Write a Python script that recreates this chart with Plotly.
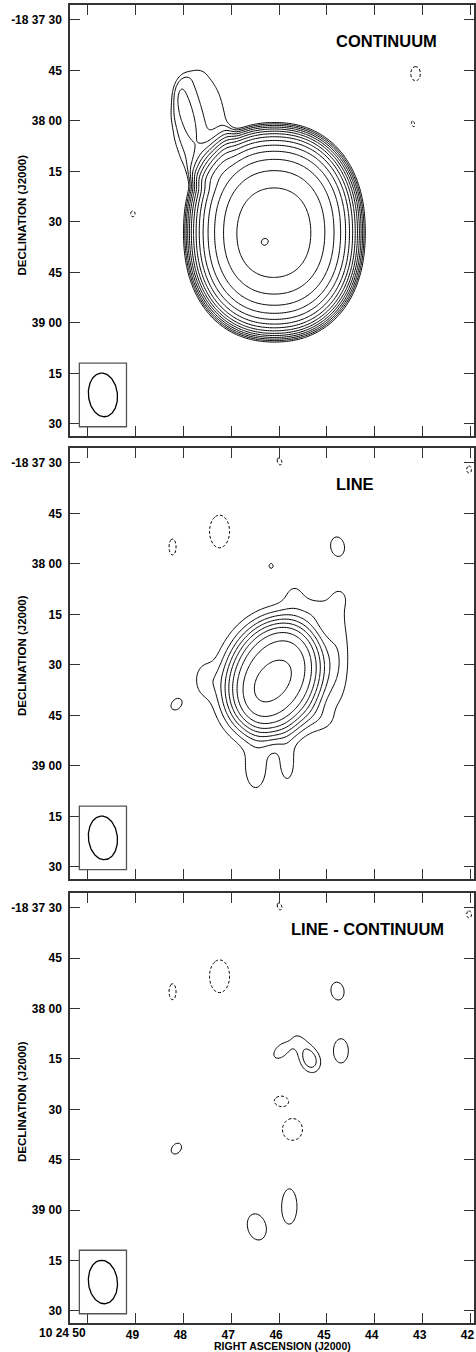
import numpy as np
import plotly.graph_objects as go

# ---------------- data ----------------
ra_ticks = [50, 49, 48, 47, 46, 45, 44, 43, 42]           # seconds of RA (10h24m xx s)
ra_labels = ["", "49", "48", "47", "46", "45", "44", "43", "42"]
ra_first_label = "10 24 50"
dec_ticks = [30, 45, 60, 75, 90, 105, 120, 135, 150]      # arcsec south of -18 37 00
dec_labels = ["-18 37 30", "45", "38 00", "15", "30", "45", "39 00", "15", "30"]
panel_titles = ["CONTINUUM", "LINE", "LINE - CONTINUUM"]

# restoring beam (FWHM arcsec, PA deg E of N) and its plotting position
beam_ra, beam_dec = 49.681, 141.4
beam_bmaj, beam_bmin, beam_bpa = 13.0, 8.6, 6.0

# CONTINUUM: extended source (filled ellipsoid), faint NE plateau, gaussian components (fraction of peak)
cont_disk = dict(ra=46.098, dec=93.1, a=33.0, b=27.0, pa=0.0, n=2.25, p=1.0, amp=1.0, smooth=2.3)
cont_plateau = dict(ra=47.66, dec=61.2, a=18.0, b=9.5, pa=5.0, n=2.0, p=0.0, amp=0.072, smooth=1.5)
cont_ra   = [46.30, 46.327, 47.95, 48.14, 47.51, 43.148, 43.20, 49.056]
cont_dec  = [95.5, 96.2, 57.3, 43.5, 43.0, 46.0, 60.9, 87.6]
cont_amp  = [0.03, 0.035, 0.03, 0.01, 0.01, -0.09, -0.075, -0.08]
cont_smaj = [7.0, 0.9, 11.0, 2.0, 2.0, 2.5, 1.6, 1.3]
cont_smin = [7.0, 0.9, 2.5, 2.0, 2.0, 1.7, 0.8, 1.0]
cont_pa   = [0, 0, 16, 0, 0, 0, 20, 0]
# contour levels, percent of peak (geometric steps)
cont_levels_pct = [98.5, 80.7, 66.2, 54.3, 44.5, 36.5, 29.9, 24.5, 20.1, 16.5, 13.5, 11.1, 9.1, 7.4, 6.1]
cont_neg_pct = [-6.1]

# LINE: core (smoothed flat ellipse) + gaussian components (units of lowest contour)
line_disk = dict(ra=46.094, dec=93.8, a=18.0, b=14.0, pa=-22.0, n=2.0, p=0.0, amp=7.3, smooth=3.4)
line_ra   = [46.094, 46.16, 44.744, 44.74, 45.16, 45.68, 46.49, 45.827, 47.556, 45.10, 46.167]
line_dec  = [93.8, 95.3, 86.0, 70.0, 73.7, 69.2, 121.1, 119.6, 94.4, 106.5, 60.6]
line_amp  = [1.1, 1.1, 1.2, 0.6, 1.0, 0.9, 1.4, 1.3, 1.3, 0.8, 1.25]
line_smaj = [14.0, 8.0, 12.5, 2.2, 4.0, 4.0, 6.0, 5.0, 4.0, 3.0, 1.0]
line_smin = [11.0, 5.0, 2.5, 2.2, 3.0, 3.0, 3.0, 2.0, 2.5, 3.0, 0.8]
line_pa   = [-25, -41, 0, 0, 90, 0, 0, 0, 0, 0, 0]
line_levels = [1, 2, 3, 4, 5, 6, 7, 8, 9]
line_neg = [-1]

# noise features common to LINE and LINE - CONTINUUM
noise_ra   = [45.99, 42.03, 47.244, 48.226, 44.779, 48.146]
noise_dec  = [29.6, 32.0, 50.4, 55.0, 54.8, 101.7]
noise_amp  = [-1.3, -1.3, -1.5, -1.3, 1.5, 1.4]
noise_smaj = [1.5, 1.5, 5.4, 3.3, 2.97, 2.2]
noise_smin = [0.9, 1.0, 3.3, 1.45, 2.14, 1.6]
noise_pa   = [20, 0, 0, 0, 10, -40]

# LINE - CONTINUUM residual features
diff_ra   = [45.952, 45.348, 45.51, 44.708, 45.958, 45.72, 45.785, 46.467]
diff_dec  = [72.6, 75.5, 71.1, 72.6, 87.5, 96.0, 118.9, 125.0]
diff_amp  = [1.5, 2.4, 1.2, 1.5, -1.4, -1.5, 1.5, 1.5]
diff_smaj = [3.0, 2.6, 4.0, 4.0, 2.4, 3.6, 5.8, 4.4]
diff_smin = [1.8, 2.0, 2.0, 2.45, 1.7, 3.3, 2.5, 3.0]
diff_pa   = [-46, 20, 30, 0, 90, 0, 0, 15]
diff_levels = [1, 2]
diff_neg = [-1]

# ---------------- model images ----------------
COSD = np.cos(np.deg2rad(18.62))
C = 15.0 * COSD          # arcsec per second of RA
ra_grid = np.linspace(50.45, 41.85, 240)
dec_grid = np.linspace(24.5, 155.0, 262)
RA, DEC = np.meshgrid(ra_grid, dec_grid)


def rotated(ra0, dec0, pa):
    xe = (RA - ra0) * C
    yn = -(DEC - dec0)
    t = np.deg2rad(pa)
    u = xe * np.sin(t) + yn * np.cos(t)
    v = xe * np.cos(t) - yn * np.sin(t)
    return u, v


def gauss_sum(ras, decs, amps, smaj, smin, pas):
    img = np.zeros_like(RA)
    for r0, d0, a0, s1, s2, p0 in zip(ras, decs, amps, smaj, smin, pas):
        u, v = rotated(r0, d0, p0)
        img += a0 * np.exp(-0.5 * ((u / s1) ** 2 + (v / s2) ** 2))
    return img


def kernel(coord_arcsec, sig):
    k = np.exp(-0.5 * ((coord_arcsec[:, None] - coord_arcsec[None, :]) / sig) ** 2)
    return k / k.sum(axis=1, keepdims=True)


def disk_img(d):
    u, v = rotated(d["ra"], d["dec"], d["pa"])
    rho = (np.abs(u / d["a"]) ** d["n"] + np.abs(v / d["b"]) ** d["n"]) ** (1.0 / d["n"])
    inside = rho < 1
    val = np.where(inside, np.clip(1 - rho ** 2, 1e-9, None) ** d["p"], 0.0)
    kx = kernel(ra_grid * C, d["smooth"])
    ky = kernel(dec_grid, d["smooth"])
    return d["amp"] * (ky @ val @ kx.T)


img_cont = (disk_img(cont_disk) + disk_img(cont_plateau)
            + gauss_sum(cont_ra, cont_dec, cont_amp, cont_smaj, cont_smin, cont_pa))
img_line = (disk_img(line_disk) + gauss_sum(line_ra, line_dec, line_amp, line_smaj, line_smin, line_pa)
            + gauss_sum(noise_ra, noise_dec, noise_amp, noise_smaj, noise_smin, noise_pa))
img_diff = (gauss_sum(diff_ra, diff_dec, diff_amp, diff_smaj, diff_smin, diff_pa)
            + gauss_sum(noise_ra, noise_dec, noise_amp, noise_smaj, noise_smin, noise_pa))

# ---------------- figure ----------------
fig = go.Figure()
AX = ["", "2", "3"]
DASH = "3px,2px"


def contour_trace(z, start, end, size, k, dash="solid"):
    return go.Contour(
        x=ra_grid, y=dec_grid, z=np.round(z, 4), xaxis="x" + AX[k], yaxis="y" + AX[k],
        contours=dict(coloring="none", start=start, end=end, size=size),
        line=dict(color="black", width=1, dash=dash, smoothing=1.0),
        showscale=False, hoverinfo="skip")


# continuum: geometric levels -> contour the log of the image
peak = img_cont.max()
logpos = np.log10(np.clip(img_cont / peak * 100.0, 1e-3, None))
logneg = np.log10(np.clip(-img_cont / peak * 100.0, 1e-3, None))
lv = np.log10(cont_levels_pct)
fig.add_trace(contour_trace(logpos, lv.min(), lv.max(), (lv.max() - lv.min()) / (len(lv) - 1), 0))
for p in cont_neg_pct:
    lnv = np.log10(-p)
    fig.add_trace(contour_trace(logneg, lnv, lnv, 1.0, 0, DASH))

# line and line - continuum: linear levels
for img, levels, negs, k in [(img_line, line_levels, line_neg, 1), (img_diff, diff_levels, diff_neg, 2)]:
    step = levels[1] - levels[0]
    fig.add_trace(contour_trace(img, levels[0], levels[-1], step, k))
    for n in negs:
        fig.add_trace(contour_trace(img, n, n, 1.0, k, DASH))

# beam ellipse and box in every panel
t = np.linspace(0, 2 * np.pi, 120)
bu = beam_bmaj / 2 * np.cos(t)
bv = beam_bmin / 2 * np.sin(t)
th = np.deg2rad(beam_bpa)
b_xe = bu * np.sin(th) + bv * np.cos(th)
b_yn = bu * np.cos(th) - bv * np.sin(th)
b_ra = beam_ra + b_xe / C
b_dec = beam_dec - b_yn
box_hw, box_hh = 7.0, 9.45   # arcsec half-sizes of the beam box
shapes = []
for k in range(3):
    fig.add_trace(go.Scatter(x=b_ra, y=b_dec, mode="lines", xaxis="x" + AX[k], yaxis="y" + AX[k],
                             line=dict(color="black", width=1.3), hoverinfo="skip", showlegend=False))
    shapes.append(dict(type="rect", xref="x" + AX[k], yref="y" + AX[k],
                       x0=beam_ra + box_hw / C, x1=beam_ra - box_hw / C,
                       y0=beam_dec - box_hh, y1=beam_dec + box_hh,
                       line=dict(color="#555", width=1.3)))

FONT = "Liberation Sans, Arial, sans-serif"
domains = [[0.6730, 1.0], [0.3369, 0.6639], [0.0, 0.3263]]
axis_common = dict(showline=True, linecolor="#333", linewidth=1.5, mirror="allticks",
                   ticks="inside", ticklen=10, tickwidth=1.2, tickcolor="#333",
                   showgrid=False, zeroline=False, automargin=False,
                   tickfont=dict(family=FONT, size=12, color="black", weight="bold"))
layout = dict(width=476, height=1352, margin=dict(l=70, r=2, t=5, b=29),
              paper_bgcolor="white", plot_bgcolor="white", showlegend=False,
              font=dict(family=FONT, color="black"))
for k in range(3):
    layout["xaxis" + AX[k]] = dict(axis_common, domain=[0, 1], anchor="y" + AX[k],
                                   range=[50.369, 41.927], tickvals=ra_ticks, ticktext=ra_labels,
                                   showticklabels=(k == 2), ticklabelstandoff=0,
                                   ticklabelshift=3, ticklabeloverflow="allow")
    layout["yaxis" + AX[k]] = dict(axis_common, domain=domains[k], anchor="x" + AX[k],
                                   range=[153.6, 25.6], tickvals=dec_ticks, ticktext=dec_labels,
                                   ticklabelstandoff=4)
fig.update_layout(**layout)
fig.update_layout(shapes=shapes)

ann = []
title_x = [44.862, 44.862, 45.80]
for k in range(3):
    ann.append(dict(text=panel_titles[k], xref="x" + AX[k], yref="y" + AX[k], x=title_x[k], y=36.4,
                    xanchor="left", yanchor="middle", showarrow=False,
                    font=dict(family=FONT, size=16.5, color="black", weight="bold")))
dec_title_y = [0.841, 0.5068, 0.1684]
for k in range(3):
    ann.append(dict(text="DECLINATION (J2000)", xref="paper", yref="paper", x=-0.119, y=dec_title_y[k],
                    textangle=-90, xanchor="center", yanchor="middle", showarrow=False,
                    font=dict(family=FONT, size=11.5, color="black", weight="bold")))
ann.append(dict(text="RIGHT ASCENSION (J2000)", xref="paper", yref="paper", x=0.5248, y=-0.0175,
                xanchor="center", yanchor="middle", showarrow=False,
                font=dict(family=FONT, size=10.5, color="black", weight="bold")))
ann.append(dict(text=ra_first_label, xref="x3", yref="paper", x=ra_ticks[0], y=-0.0075,
                xanchor="right", yanchor="middle", showarrow=False,
                font=dict(family=FONT, size=12, color="black", weight="bold")))
fig.update_layout(annotations=ann)

fig.write_html("out.html", config={"displayModeBar": False},
               post_script="document.body.style.margin='0';document.body.style.overflow='hidden';")
